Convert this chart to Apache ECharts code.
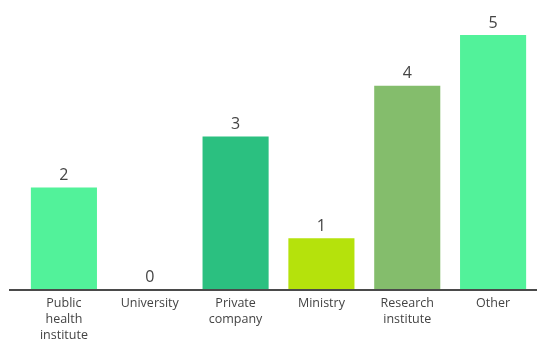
<!DOCTYPE html>
<html>
<head>
<meta charset="utf-8">
<script src="https://cdn.jsdelivr.net/npm/echarts@6/dist/echarts.min.js"></script>
<style>
  html, body { margin: 0; padding: 0; background: #ffffff; }
  #chart { width: 537px; height: 343px; }
</style>
</head>
<body>
<div id="chart"></div>
<script>
// Organisation types and counts
const categories = ['Public\nhealth\ninstitute', 'University', 'Private\ncompany', 'Ministry', 'Research\ninstitute', 'Other'];
const counts = [2, 0, 3, 1, 4, 5];
const barColors = ['#52F29A', '#52F29A', '#2BC080', '#B5E20C', '#84BD6C', '#52F29A'];

const chart = echarts.init(document.getElementById('chart'), null, { renderer: 'canvas' });

const fontFamily = '"Open Sans", Lato, sans-serif';
const axisColor = '#4a4a4a';

chart.setOption({
  animation: false,
  backgroundColor: '#ffffff',
  grid: { left: 21, right: 1, top: 35, bottom: 50, containLabel: false },
  xAxis: {
    type: 'category',
    data: categories,
    axisLine: { show: false },
    axisTick: { show: false },
    axisLabel: {
      color: '#444444',
      fontSize: 12.5,
      lineHeight: 16,
      margin: 6,
      interval: 0,
      fontFamily: fontFamily
    }
  },
  yAxis: {
    type: 'value',
    min: 0,
    max: 5,
    show: false,
    splitLine: { show: false }
  },
  series: [{
    type: 'bar',
    data: counts.map((v, i) => ({ value: v, itemStyle: { color: barColors[i] } })),
    barCategoryGap: '23%',
    label: {
      show: true,
      position: 'top',
      distance: 4,
      color: '#444444',
      fontSize: 16,
      fontFamily: fontFamily
    }
  }]
});

// Baseline at value 0, running slightly past the first category on the left
const baseY = chart.convertToPixel({ yAxisIndex: 0 }, 0);
chart.setOption({
  graphic: [{
    type: 'line',
    z: 10,
    shape: { x1: 9, y1: baseY + 1, x2: 537, y2: baseY + 1 },
    style: { stroke: axisColor, lineWidth: 2 }
  }]
});
</script>
</body>
</html>
